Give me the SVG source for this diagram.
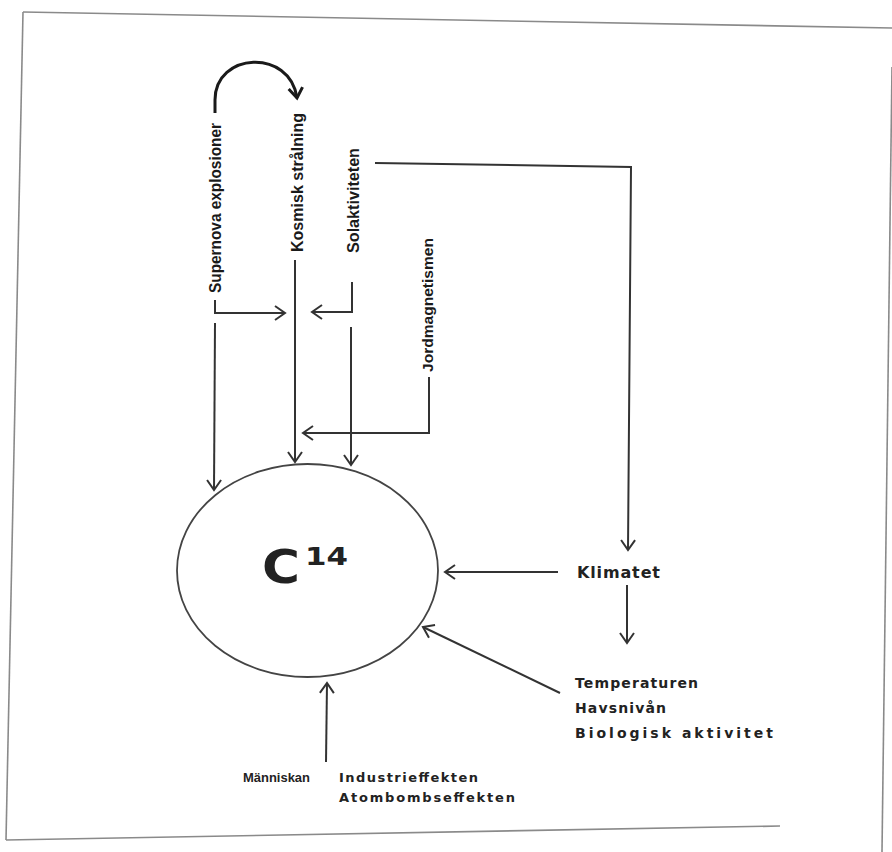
<svg xmlns="http://www.w3.org/2000/svg" width="892" height="852" viewBox="0 0 892 852">
<defs>
<style>
.frame{fill:none;stroke:#8a8a8a;stroke-width:1.6}
.ln{fill:none;stroke:#333;stroke-width:2}
.hv{fill:none;stroke:#1a1a1a;stroke-width:3}
.lbl{font-family:"DejaVu Sans","Liberation Sans",Arial,sans-serif;font-weight:bold;fill:#222}
.vl{font-family:"Liberation Sans",Arial,sans-serif;font-weight:bold;fill:#1a1a1a;font-size:17px}
</style>
<marker id="ah" viewBox="-12 -9 14 18" markerWidth="14" markerHeight="18" refX="0" refY="0" orient="auto" markerUnits="userSpaceOnUse" overflow="visible">
<path d="M-10,-7 L0,0 L-10,7" fill="none" stroke="#333" stroke-width="2"/>
</marker>
<marker id="ahb" viewBox="-12 -9 14 18" markerWidth="14" markerHeight="18" refX="0" refY="0" orient="auto" markerUnits="userSpaceOnUse" overflow="visible">
<path d="M-10,-7 L0,0 L-10,7" fill="none" stroke="#1a1a1a" stroke-width="3"/>
</marker>
</defs>
<rect width="892" height="852" fill="#fff"/>
<g id="frame">
<path class="frame" d="M23,12 L892,28"/>
<path class="frame" d="M23,12 L6,840"/>
<path class="frame" d="M6,840 L780,826"/>
<path class="frame" d="M892,67 L882,852"/>
</g>
<g id="connectors">
<path class="hv" d="M215,113 L215,100 C215,52 290,48 297,98" marker-end="url(#ahb)"/>
<path class="ln" d="M215,300 L215,313 L285,313" marker-end="url(#ah)"/>
<path class="ln" d="M352,282 L352,312 L312,312" marker-end="url(#ah)"/>
<path class="ln" d="M295,260 L295,462" marker-end="url(#ah)"/>
<path class="ln" d="M215,323 L214,490" marker-end="url(#ah)"/>
<path class="ln" d="M351,327 L351,465" marker-end="url(#ah)"/>
<path class="ln" d="M429,377 L429,433 L303,433" marker-end="url(#ah)"/>
<path class="ln" d="M375,163 L631,167 L628,550" marker-end="url(#ah)"/>
<path class="ln" d="M558,572 L445,572" marker-end="url(#ah)"/>
<path class="ln" d="M627,585 L627,643" marker-end="url(#ah)"/>
<path class="ln" d="M560,693 L423,627" marker-end="url(#ah)"/>
<path class="ln" d="M326,762 L327,683" marker-end="url(#ah)"/>
</g>
<g id="supernova"><text class="vl" transform="translate(221,293) rotate(-90)" textLength="170" lengthAdjust="spacingAndGlyphs">Supernova explosioner</text></g>
<g id="kosmisk"><text class="vl" transform="translate(303,252) rotate(-90)" textLength="139" lengthAdjust="spacingAndGlyphs">Kosmisk strålning</text></g>
<g id="solaktiviteten"><text class="vl" transform="translate(359,253) rotate(-90)" textLength="105" lengthAdjust="spacingAndGlyphs">Solaktiviteten</text></g>
<g id="jordmagnetismen"><text class="vl" style="font-size:14px" transform="translate(433,372) rotate(-90)" textLength="134" lengthAdjust="spacingAndGlyphs">Jordmagnetismen</text></g>
<g id="c14">
<ellipse cx="307.5" cy="570.5" rx="130.5" ry="106.5" fill="none" stroke="#444" stroke-width="1.8"/>
<text class="lbl" x="262" y="583" style="font-size:46px" fill="#333" textLength="38" lengthAdjust="spacingAndGlyphs">C</text>
<text class="lbl" x="305" y="565" style="font-size:24px" fill="#333" textLength="43" lengthAdjust="spacingAndGlyphs">14</text>
</g>
<g id="klimatet"><text class="lbl" x="577" y="578" style="font-size:16px" textLength="83" lengthAdjust="spacing">Klimatet</text></g>
<g id="effekter">
<text class="lbl" x="575" y="688" style="font-size:14px" textLength="123" lengthAdjust="spacing">Temperaturen</text>
<text class="lbl" x="575" y="713" style="font-size:14px" textLength="91" lengthAdjust="spacing">Havsnivån</text>
<text class="lbl" x="575" y="738" style="font-size:14px" textLength="198" lengthAdjust="spacing">Biologisk aktivitet</text>
</g>
<g id="manniskan">
<text class="lbl" x="243" y="782" style="font-size:13px;font-family:'Liberation Sans',Arial,sans-serif" textLength="67" lengthAdjust="spacingAndGlyphs">Människan</text>
<text class="lbl" x="339" y="782" style="font-size:13px" textLength="139" lengthAdjust="spacing">Industrieffekten</text>
<text class="lbl" x="339" y="802" style="font-size:13px" textLength="176" lengthAdjust="spacing">Atombombseffekten</text>
</g>
</svg>
